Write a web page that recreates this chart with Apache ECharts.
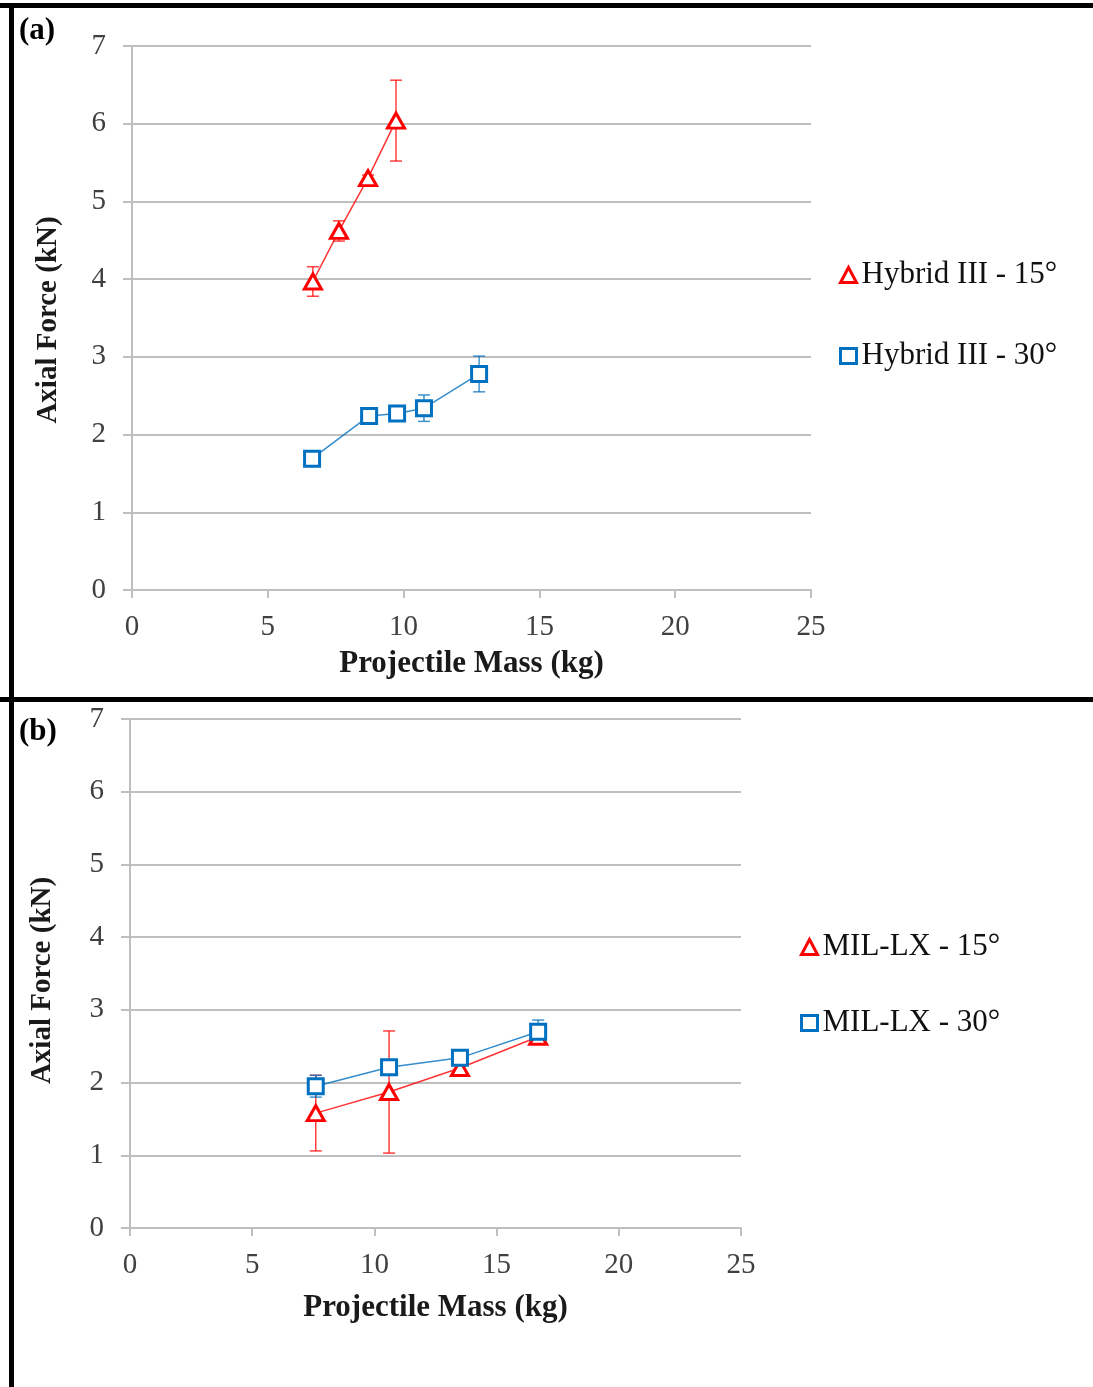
<!DOCTYPE html>
<html><head><meta charset="utf-8">
<script src="https://cdn.jsdelivr.net/npm/echarts@6/dist/echarts.min.js"></script>
<style>html,body{margin:0;padding:0;background:#fff}#c{width:1093px;height:1387px}</style>
</head><body><div id="c"></div>
<script>
// Panel (a)
const aRedX = [6.66, 7.62, 8.69, 9.72];
const aRedY = [3.97, 4.62, 5.30, 6.04];
const aRedErr = [0.19, 0.13, 0.04, 0.52];
const aBlueX = [6.63, 8.73, 9.76, 10.75, 12.78];
const aBlueY = [1.69, 2.24, 2.27, 2.34, 2.78];
const aBlueErr = [0.04, 0.04, 0.04, 0.17, 0.23];
// Panel (b)
const bRedX = [7.6, 10.6, 13.5, 16.7];
const bRedY = [1.58, 1.87, 2.20, 2.63];
const bRedErr = [0.52, 0.84, 0.07, 0.05];
const bBlueX = [7.6, 10.6, 13.5, 16.7];
const bBlueY = [1.95, 2.21, 2.34, 2.70];
const bBlueErr = [0.15, 0.04, 0.04, 0.16];
const xTicks = [0, 5, 10, 15, 20, 25];
const yTicks = [0, 1, 2, 3, 4, 5, 6, 7];
const names = ['Hybrid III - 15°', 'Hybrid III - 30°', 'MIL-LX - 15°', 'MIL-LX - 30°'];

const RED = '#ff0000', BLUE = '#0070c0';
const FONT = 'Liberation Serif';
const pts = (xs, ys) => xs.map((x, i) => [x, ys[i]]);
const errPts = (xs, ys, es) => xs.map((x, i) => [x, ys[i] - es[i], ys[i] + es[i]]);

function errSeries(idx, xs, ys, es, color) {
  return {
    type: 'custom', xAxisIndex: idx, yAxisIndex: idx, z: 1, silent: true,
    data: errPts(xs, ys, es),
    renderItem: (params, api) => {
      const lo = api.coord([api.value(0), api.value(1)]);
      const hi = api.coord([api.value(0), api.value(2)]);
      const w = 6;
      const st = { stroke: color, lineWidth: 1.5, opacity: 0.75 };
      return { type: 'group', children: [
        { type: 'line', shape: { x1: lo[0], y1: lo[1], x2: hi[0], y2: hi[1] }, style: st },
        { type: 'line', shape: { x1: lo[0] - w, y1: lo[1], x2: lo[0] + w, y2: lo[1] }, style: st },
        { type: 'line', shape: { x1: hi[0] - w, y1: hi[1], x2: hi[0] + w, y2: hi[1] }, style: st }
      ]};
    }
  };
}
function lineSeries(idx, name, xs, ys, color, sym) {
  return {
    type: 'line', name: name, xAxisIndex: idx, yAxisIndex: idx, z: 3,
    data: pts(xs, ys), symbol: sym,
    symbolSize: sym === 'triangle' ? [17, 15] : 15,
    lineStyle: { color: color, width: 1.5, opacity: 0.8 },
    itemStyle: { color: '#fff', borderColor: color, borderWidth: 3 },
    emphasis: { disabled: true }
  };
}
function xAxis(idx, gap) {
  return {
    type: 'value', gridIndex: idx, min: 0, max: 25, interval: 5,
    name: 'Projectile Mass (kg)', nameLocation: 'middle', nameGap: gap,
    nameTextStyle: { fontFamily: FONT, fontWeight: 'bold', fontSize: 31, color: '#1a1a1a' },
    axisLine: { lineStyle: { color: '#bfbfbf', width: 2 } },
    axisTick: { show: true, length: 8, lineStyle: { color: '#bfbfbf', width: 2 } },
    splitLine: { show: false },
    axisLabel: { fontFamily: FONT, fontSize: 29, color: '#404040', margin: 23,
      formatter: v => xTicks.includes(v) ? String(v) : '' }
  };
}
function yAxis(idx, gap, pad) {
  return {
    type: 'value', gridIndex: idx, min: 0, max: 7, interval: 1,
    name: 'Axial Force (kN)', nameLocation: 'middle', nameGap: gap, nameRotate: 90,
    nameTextStyle: { fontFamily: FONT, fontWeight: 'bold', fontSize: 29, color: '#1a1a1a', padding: pad },
    axisLine: { show: true, lineStyle: { color: '#bfbfbf', width: 2 } },
    axisTick: { show: true, length: 9, lineStyle: { color: '#bfbfbf', width: 2 } },
    splitLine: { show: true, lineStyle: { color: '#bfbfbf', width: 2 } },
    axisLabel: { fontFamily: FONT, fontSize: 29, color: '#404040', margin: 26,
      formatter: v => yTicks.includes(v) ? String(v) : '' }
  };
}
function legend(left, top, gap, data) {
  return {
    left: left, top: top, orient: 'vertical', itemGap: gap, itemWidth: 16, itemHeight: 15,
    selectedMode: false, data: data,
    textStyle: { fontFamily: FONT, fontSize: 31, color: '#111', lineHeight: 32 }
  };
}

const chart = echarts.init(document.getElementById('c'));
chart.setOption({
  animation: false,
  backgroundColor: '#fff',
  grid: [
    { left: 132, right: 282, top: 46, bottom: 797 },
    { left: 130, right: 352, top: 719, bottom: 159 }
  ],
  xAxis: [xAxis(0, 58), xAxis(1, 64)],
  yAxis: [yAxis(0, 69, [0, 4, 0, 0]), yAxis(1, 73, [0, 14, 0, 0])],
  legend: [
    legend(834, 254, 49, [
      { name: names[0], icon: 'triangle', itemStyle: { color: '#fff', borderColor: RED, borderWidth: 3 } },
      { name: names[1], icon: 'rect', itemStyle: { color: '#fff', borderColor: BLUE, borderWidth: 3 } }
    ]),
    legend(795, 926, 44, [
      { name: names[2], icon: 'triangle', itemStyle: { color: '#fff', borderColor: RED, borderWidth: 3 } },
      { name: names[3], icon: 'rect', itemStyle: { color: '#fff', borderColor: BLUE, borderWidth: 3 } }
    ])
  ],
  series: [
    errSeries(0, aRedX, aRedY, aRedErr, RED),
    errSeries(0, aBlueX, aBlueY, aBlueErr, BLUE),
    lineSeries(0, names[0], aRedX, aRedY, RED, 'triangle'),
    lineSeries(0, names[1], aBlueX, aBlueY, BLUE, 'rect'),
    errSeries(1, bRedX, bRedY, bRedErr, RED),
    errSeries(1, bBlueX, bBlueY, bBlueErr, BLUE),
    lineSeries(1, names[2], bRedX, bRedY, RED, 'triangle'),
    lineSeries(1, names[3], bBlueX, bBlueY, BLUE, 'rect')
  ],
  graphic: [
    { type: 'rect', shape: { x: 0, y: 3, width: 1093, height: 5 }, style: { fill: '#000' } },
    { type: 'rect', shape: { x: 0, y: 697, width: 1093, height: 5 }, style: { fill: '#000' } },
    { type: 'rect', shape: { x: 9, y: 3, width: 5, height: 1384 }, style: { fill: '#000' } },
    { type: 'text', left: 19, top: 15, style: { text: '(a)', font: 'bold 31px "Liberation Serif"', fill: '#000' } },
    { type: 'text', left: 19, top: 716, style: { text: '(b)', font: 'bold 31px "Liberation Serif"', fill: '#000' } }
  ]
});
</script></body></html>
